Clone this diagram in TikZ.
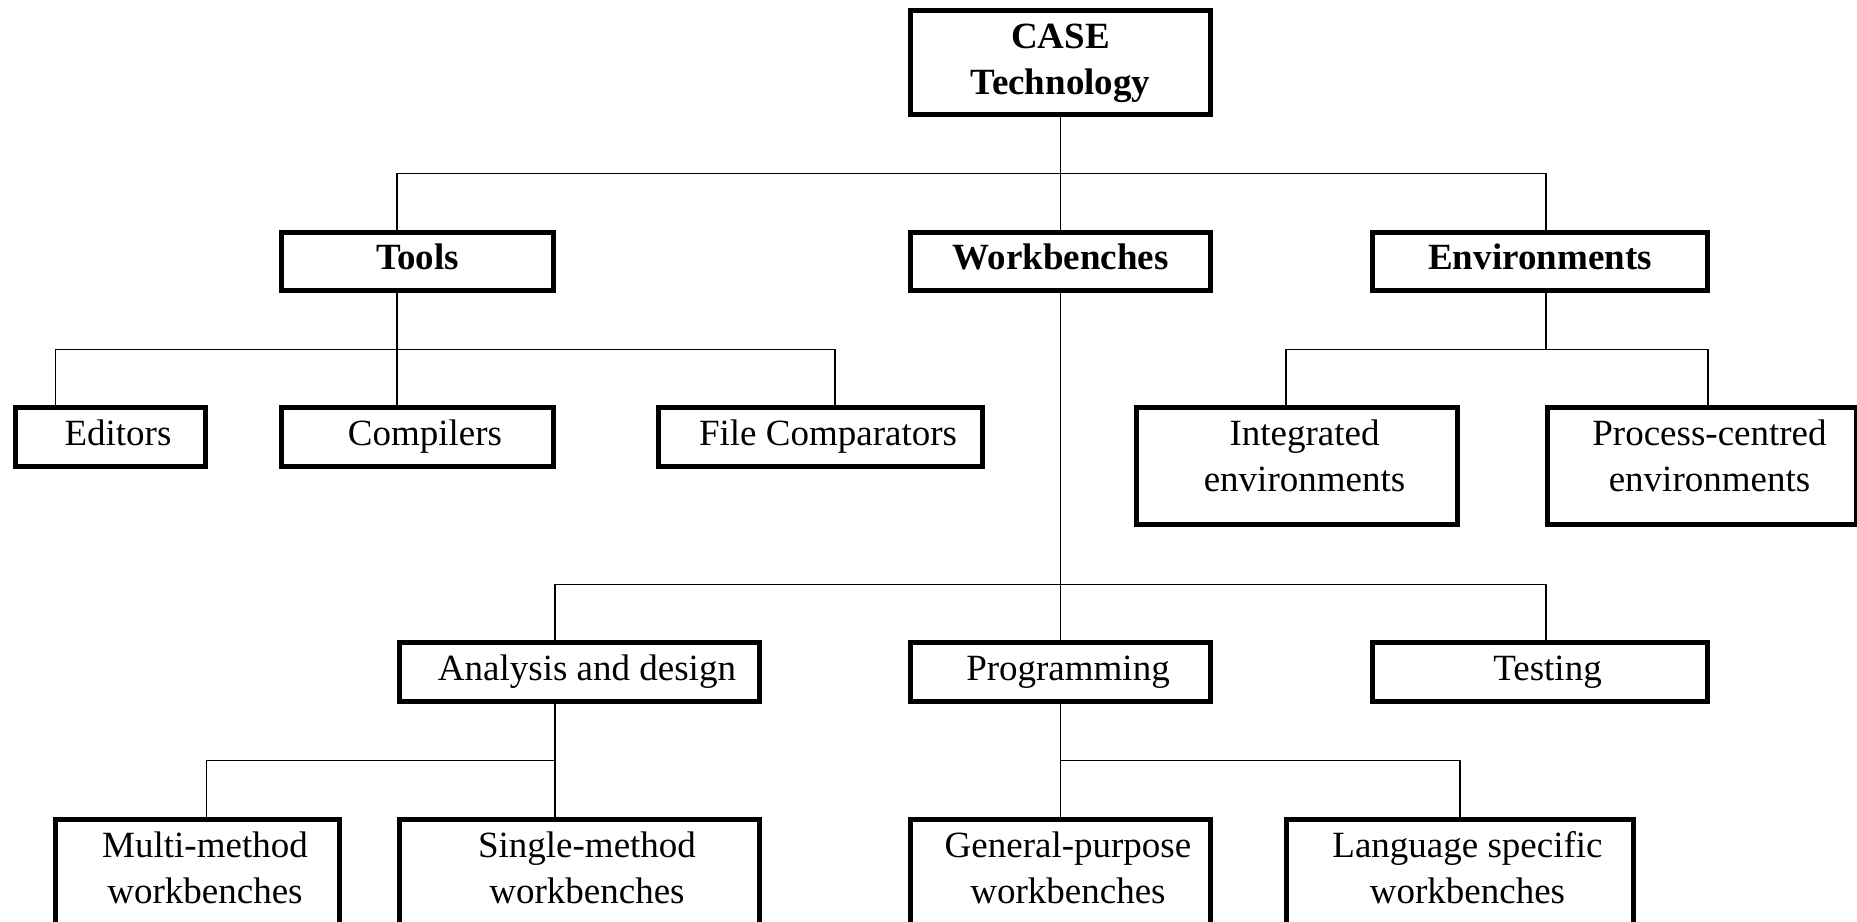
\documentclass[tikz,border=0pt]{standalone}
\usepackage{fontspec}
\setmainfont{Liberation Serif}
\newcommand\stacked[2]{\begin{tabular}[t]{@{}c@{}}#1\\#2\end{tabular}}
\begin{document}
\begin{tikzpicture}[x=0.5pt,y=-0.5pt,
  box/.style={draw, line width=2.5pt, inner sep=0pt, minimum height=29.5pt},
  tall/.style={box, minimum height=58.5pt},
  txt/.style={anchor=base, inner sep=0pt, yshift=-20pt},
  lbl/.style={txt, xshift=3.75pt, font=\fontsize{18.5}{23.25}\selectfont},
  blbl/.style={txt, font=\fontsize{18.5}{23.25}\selectfont\bfseries},
  wire/.style={line width=0.7pt}]
\useasboundingbox (0,0) rectangle (1857,921);

% top
\node[box, minimum width=150pt, minimum height=52pt,
  label={[blbl]north:\stacked{CASE}{Technology}}] (case) at (1060.5,62.5) {};

% first level
\node[box, minimum width=136pt, minimum height=29pt, label={[blbl, yshift=0.5pt]north:Tools}] (tools) at (417.5,261.5) {};
\node[box, minimum width=150pt, minimum height=29pt, label={[blbl, yshift=0.5pt]north:Workbenches}] (wb) at (1060.5,261.5) {};
\node[box, minimum width=167.5pt, minimum height=29pt, label={[blbl, yshift=0.5pt]north:Environments}] (env) at (1540,261.5) {};

% tools
\node[box, minimum width=95pt, label={[lbl]north:Editors}] (editors) at (110.5,437) {};
\node[box, minimum width=136pt, label={[lbl]north:Compilers}] (comp) at (417.5,437) {};
\node[box, minimum width=162pt, label={[lbl]north:File Comparators}] (fcomp) at (820.5,437) {};

% environments
\node[tall, minimum width=160.5pt, label={[lbl]north:\stacked{Integrated}{environments}}] (integ) at (1297,466) {};
\node[tall, minimum width=154.5pt, label={[lbl]north:\stacked{Process-centred}{environments}}] (proc) at (1702,466) {};

% workbenches
\node[box, minimum width=180pt, label={[lbl]north:Analysis and design}] (anal) at (579.5,672) {};
\node[box, minimum width=150pt, label={[lbl]north:Programming}] (prog) at (1060.5,672) {};
\node[box, minimum width=167.5pt, label={[lbl]north:Testing}] (test) at (1540,672) {};

% workbench kinds
\node[tall, minimum width=142pt, label={[lbl]north:\stacked{Multi-method}{workbenches}}] (multi) at (197.5,878) {};
\node[tall, minimum width=180pt, label={[lbl]north:\stacked{Single-method}{workbenches}}] (single) at (579.5,878) {};
\node[tall, minimum width=150pt, label={[lbl]north:\stacked{General-purpose}{workbenches}}] (gen) at (1060.5,878) {};
\node[tall, minimum width=173.5pt, label={[lbl]north:\stacked{Language specific}{workbenches}}] (lang) at (1460,878) {};

% junction points of the horizontal buses
\coordinate (bus1) at (1060.5,173.5);
\coordinate (bus2) at (397,349.5);
\coordinate (bus3) at (1546,349.5);
\coordinate (bus4) at (1060.5,584.3);
\coordinate (bus5) at (555,760.3);
\coordinate (bus6) at (1060.5,760.3);

\begin{scope}[wire]
  \draw (case.south) -- (wb.north);
  \draw ([xshift=-10.25pt]tools.north) |- (bus1) -| ([xshift=3pt]env.north);

  \draw ([xshift=-10.25pt]tools.south) -- ([xshift=-10.25pt]comp.north);
  \draw ([xshift=-27.5pt]editors.north) |- (bus2) -| ([xshift=7.25pt]fcomp.north);

  \draw ([xshift=3pt]env.south) -- (bus3);
  \draw ([xshift=-5.5pt]integ.north) |- (bus3) -| ([xshift=3pt]proc.north);

  \draw (wb.south) -- (prog.north);
  \draw ([xshift=-12.25pt]anal.north) |- (bus4) -| ([xshift=3pt]test.north);

  \draw ([xshift=-12.25pt]anal.south) -- ([xshift=-12.25pt]single.north);
  \draw ([xshift=4.5pt]multi.north) |- (bus5);

  \draw (prog.south) -- (gen.north);
  \draw (bus6) -| (lang.north);
\end{scope}
\end{tikzpicture}
\end{document}
